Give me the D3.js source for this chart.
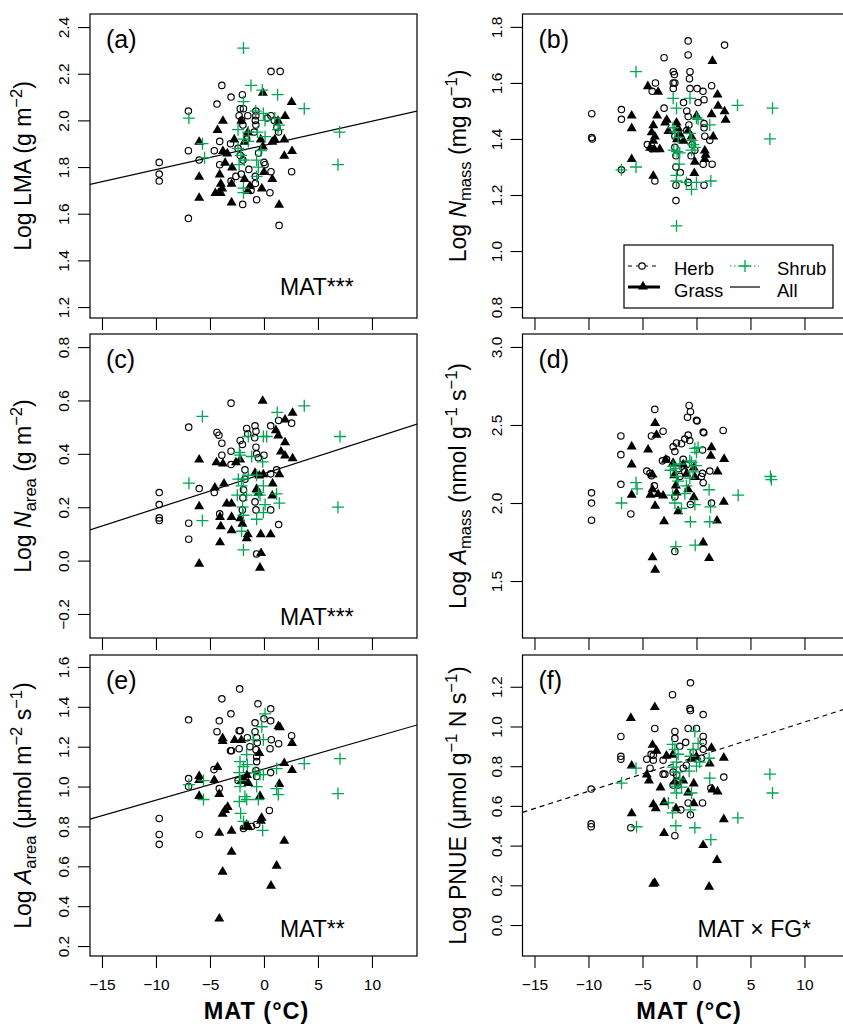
<!DOCTYPE html>
<html>
<head>
<meta charset="utf-8">
<script src="https://cdn.jsdelivr.net/npm/d3@7"></script>
<style>
  body { margin: 0; background: #fff; }
  svg { display: block; font-family: "Liberation Sans", Arial, Helvetica, sans-serif; }
</style>
</head>
<body>
<div id="chart"></div>
<script>
// MAT (degC) against log leaf traits, one [MAT, value] pair per point
const matTicks = [-15, -10, -5, 0, 5, 10];

const lmaHerb = [[-9.7,1.82],[-9.7,1.77],[-9.7,1.74],[-7.0,2.04],[-7.0,1.87],[-7.0,1.58],[-6.0,1.83],
  [-4.35,2.07],[-4.6,1.87],[-4.1,1.91],[-3.9,2.15],[-4.1,1.81],[-3.05,2.10],[-3.1,1.90],[-3.05,1.74],
  [-2.0,2.11],[-2.2,2.05],[-1.9,2.05],[-2.3,2.02],[-1.5,2.02],[-2.07,2.0],[-2.4,1.88],[-1.95,1.98],
  [-0.75,2.04],[-0.75,2.02],[-0.8,2.0],[-0.75,1.98],[-0.9,1.95],[-1.6,1.92],[-2.2,1.85],[-1.95,1.83],
  [-2.1,1.77],[-1.4,1.79],[-0.8,1.76],[-0.8,1.73],[-0.68,1.66],[-1.97,1.64],[0.0,1.82],[0.1,1.81],
  [0.65,1.78],[0.55,1.69],[0.65,2.21],[1.5,2.21],[0.3,2.01],[0.65,2.02],[0.95,2.0],[1.2,1.97],
  [1.35,1.95],[2.56,1.78],[1.4,1.55],[-1.2,1.70],[-0.5,1.86],[-2.6,1.76]];
const lmaGrass = [[-6.0,1.91],[-6.0,1.76],[-6.0,1.67],[-4.3,1.96],[-3.8,2.0],[-3.8,1.87],[-3.4,1.86],
  [-3.6,1.82],[-2.95,1.80],[-4.0,1.73],[-3.87,1.71],[-4.2,1.69],[-4.5,1.69],[-4.0,1.69],[-4.1,1.77],
  [-3.0,1.73],[-3.0,1.65],[-2.75,1.92],[-1.8,1.91],[-2.1,2.0],[-1.5,1.95],[-1.8,1.75],[-1.5,1.70],
  [-1.3,1.72],[-0.1,2.12],[-0.2,1.71],[-0.3,1.92],[-0.1,1.89],[0.0,1.78],[0.77,1.91],[1.0,1.92],
  [0.77,1.75],[1.4,1.64],[1.95,2.02],[1.3,2.0],[1.88,1.92],[1.88,1.85],[2.56,2.08],[2.6,1.87]];
const lmaShrub = [[-1.9,2.31],[-6.95,2.01],[-5.7,1.90],[-5.5,1.84],[-1.2,2.15],[-0.15,2.13],[1.26,2.11],
  [3.73,2.05],[7.0,1.95],[6.85,1.81],[-1.9,2.08],[-0.77,2.04],[-0.06,2.03],[0.1,2.0],[1.0,2.01],
  [1.4,1.98],[1.3,1.96],[-2.4,1.96],[-1.45,1.95],[-1.9,1.92],[-1.45,1.91],[-2.4,1.88],[-2.13,1.85],
  [-1.82,1.83],[-2.3,1.81],[-0.6,1.95],[0.1,1.93],[-0.28,1.87],[-0.68,1.83],[-0.52,1.80],[-0.68,1.76],
  [-1.9,1.71],[-1.9,1.69]];

const nmassHerb = [[-9.7,1.49],[-9.7,1.405],[-9.65,1.40],[-6.95,1.505],[-6.95,1.47],[-6.95,1.29],
  [-3.0,1.69],[-3.8,1.60],[-4.1,1.57],[-3.85,1.25],[-4.55,1.38],[-4.15,1.365],[-3.0,1.51],
  [-2.15,1.64],[-2.05,1.63],[-2.15,1.60],[-2.0,1.60],[-2.15,1.58],[-0.77,1.75],[-0.77,1.70],
  [-0.6,1.64],[-0.65,1.615],[-0.6,1.58],[0.06,1.58],[0.6,1.57],[0.15,1.53],[0.7,1.54],[1.4,1.59],
  [2.6,1.735],[-1.2,1.53],[-0.9,1.50],[-0.77,1.48],[-0.7,1.45],[-0.9,1.43],[-2.0,1.41],[-2.0,1.37],
  [-1.9,1.34],[-1.9,1.30],[-1.5,1.28],[-1.9,1.235],[-1.9,1.18],[-0.77,1.245],[0.7,1.235],[0.62,1.31],
  [1.45,1.31],[0.77,1.41],[1.23,1.395],[0.7,1.455],[0.7,1.44],[-0.4,1.38],[-0.15,1.36],[-0.5,1.34]];
const nmassGrass = [[-6.0,1.485],[-6.0,1.44],[-6.0,1.33],[-4.5,1.59],[-3.55,1.57],[-3.65,1.485],
  [-4.0,1.27],[-4.0,1.45],[-4.15,1.425],[-3.85,1.41],[-4.0,1.395],[-4.3,1.37],[-3.4,1.365],
  [-3.9,1.365],[-2.9,1.46],[-2.6,1.43],[-2.75,1.47],[-1.85,1.46],[-1.7,1.44],[-1.55,1.42],
  [-1.8,1.40],[-1.2,1.395],[-0.77,1.43],[-0.46,1.41],[0.0,1.485],[-0.15,1.32],[-0.2,1.28],
  [0.77,1.36],[0.85,1.345],[0.77,1.33],[1.48,1.68],[1.95,1.56],[2.0,1.52],[1.4,1.49],[1.55,1.41],
  [2.6,1.50],[2.7,1.47]];
const nmassShrub = [[-5.6,1.64],[-6.95,1.29],[-5.6,1.30],[-1.85,1.09],[3.8,1.52],[7.04,1.51],[6.8,1.40],
  [-2.16,1.545],[-1.85,1.51],[-2.16,1.44],[-2.0,1.425],[-1.7,1.405],[-2.1,1.36],[-1.8,1.355],
  [-1.55,1.35],[-1.6,1.31],[-1.85,1.27],[-1.85,1.25],[-0.93,1.245],[-0.46,1.22],[0.0,1.245],
  [-0.6,1.545],[0.0,1.475],[0.15,1.47],[-0.6,1.42],[-0.46,1.395],[-0.3,1.38],[-0.46,1.36],
  [-0.15,1.37],[1.23,1.45],[1.33,1.25]];

const nareaHerb = [[-9.7,0.255],[-9.7,0.21],[-9.7,0.16],[-9.7,0.15],[-6.97,0.50],[-6.97,0.14],
  [-6.97,0.08],[-6.0,0.27],[-4.6,0.255],[-4.35,0.48],[-4.17,0.47],[-3.9,0.44],[-3.9,0.395],
  [-4.1,0.175],[-3.05,0.59],[-3.05,0.41],[-3.05,0.36],[-2.2,0.45],[-2.0,0.435],[-1.6,0.495],
  [-1.5,0.475],[-0.83,0.505],[-0.74,0.485],[-0.86,0.46],[-0.74,0.425],[-0.68,0.40],[-0.52,0.385],
  [0.0,0.395],[0.62,0.505],[1.36,0.525],[2.56,0.515],[1.17,0.34],[0.62,0.325],[-1.76,0.34],
  [-1.76,0.305],[-1.9,0.265],[-1.95,0.235],[-2.0,0.19],[-0.83,0.22],[-0.74,0.19],[0.62,0.19],
  [1.36,0.135],[-0.68,0.025]];
const nareaGrass = [[-6.0,0.38],[-6.0,0.205],[-6.0,-0.01],[-4.4,0.37],[-3.8,0.365],[-3.7,0.29],
  [-4.55,0.275],[-3.45,0.215],[-3.0,0.215],[-4.07,0.165],[-4.0,0.13],[-3.0,0.165],[-3.0,0.115],
  [-4.07,0.07],[-2.6,0.37],[-2.2,0.38],[-2.2,0.16],[-2.0,0.14],[-1.5,0.10],[-1.6,0.085],[-0.3,0.10],
  [0.62,0.10],[-0.12,0.60],[-0.27,0.03],[-0.37,-0.025],[-0.83,0.33],[-0.43,0.32],[-0.06,0.325],
  [0.8,0.29],[0.77,0.245],[1.42,0.325],[1.57,0.41],[1.1,0.49],[1.33,0.47],[1.95,0.53],[2.65,0.555],
  [1.95,0.445],[1.95,0.395],[2.65,0.385],[-0.68,0.27],[-0.52,0.255]];
const nareaShrub = [[-5.7,0.54],[-6.95,0.29],[-5.7,0.15],[3.73,0.58],[7.04,0.465],[6.85,0.20],
  [1.23,0.555],[-1.9,0.04],[-1.45,0.465],[-0.06,0.465],[0.25,0.465],[-2.28,0.405],[-2.2,0.395],
  [-1.14,0.39],[-0.12,0.37],[-2.37,0.305],[-1.9,0.305],[-2.07,0.28],[-1.6,0.245],[-2.47,0.245],
  [-1.98,0.20],[-1.9,0.17],[-2.07,0.11],[-0.52,0.255],[-0.37,0.245],[-0.06,0.28],[0.1,0.21],
  [-0.06,0.18],[-0.68,0.155],[1.17,0.25],[1.42,0.215],[-0.68,0.32],[-1.45,0.32]];

const amassHerb = [[-9.72,2.065],[-9.72,2.0],[-9.72,1.89],[-7.0,2.43],[-7.0,2.31],[-7.0,2.12],
  [-6.08,1.93],[-3.86,2.60],[-3.09,2.46],[-4.17,2.43],[-4.6,2.205],[-4.3,2.19],[-4.17,2.175],
  [-3.9,2.11],[-3.15,2.27],[-2.16,2.36],[-1.85,2.385],[-2.0,2.33],[-1.39,2.38],[-1.08,2.41],
  [-0.77,2.435],[-0.62,2.40],[-0.68,2.625],[-0.56,2.585],[-0.83,2.55],[0.0,2.53],[0.06,2.525],
  [0.62,2.455],[0.68,2.45],[2.47,2.465],[0.56,2.34],[0.56,2.19],[0.46,2.17],[0.62,2.13],[1.23,2.205],
  [1.39,2.0],[-0.56,1.99],[-2.0,1.69],[-1.69,2.22],[-1.54,2.17],[-1.23,2.28],[-0.93,2.245],
  [-1.08,2.20],[-2.0,2.04],[-2.78,2.28]];
const amassGrass = [[-6.0,2.365],[-6.0,2.25],[-6.0,2.055],[-4.48,2.345],[-3.83,2.515],[-3.7,2.44],
  [-4.07,2.185],[-4.07,2.09],[-4.26,2.055],[-3.55,2.06],[-3.09,2.05],[-3.83,1.985],[-3.0,1.885],
  [-4.07,1.655],[-3.83,1.575],[-2.84,2.28],[-2.16,2.26],[-2.07,2.18],[-1.91,2.115],[-1.85,2.07],
  [-1.7,1.95],[-1.23,2.25],[-0.93,2.19],[-0.77,2.09],[-0.25,2.23],[-0.15,2.17],[-0.25,2.04],
  [0.62,1.75],[1.17,1.65],[1.39,2.36],[1.33,2.305],[1.95,2.205],[2.56,2.285],[2.53,2.01],[1.9,1.89]];
const amassShrub = [[-6.94,2.0],[-5.6,2.13],[-5.5,2.09],[6.85,2.17],[6.94,2.15],[3.86,2.05],
  [1.17,2.085],[1.3,1.975],[1.23,1.88],[-0.56,1.88],[-1.91,1.72],[-0.12,1.73],[-2.22,2.05],
  [-2.0,2.0],[-1.39,1.965],[-1.08,2.06],[-0.93,2.11],[-0.62,2.16],[-0.31,2.20],[-0.06,2.24],
  [0.0,2.325],[-0.15,2.35],[0.15,2.355],[-0.62,2.27],[-1.7,2.14],[-1.85,2.17],[-2.16,2.235],
  [-1.91,2.22],[-1.54,2.25],[-2.41,2.21],[-0.46,2.26],[-0.15,1.99]];

const aareaHerb = [[-9.7,0.84],[-9.7,0.76],[-9.7,0.71],[-6.98,1.335],[-6.98,1.04],[-6.98,1.0],
  [-6.0,0.76],[-4.35,1.275],[-4.14,1.33],[-3.9,1.44],[-4.63,1.085],[-4.14,0.99],[-3.06,1.365],
  [-3.1,1.18],[-3.0,1.18],[-2.25,1.49],[-2.3,1.28],[-2.2,1.28],[-2.3,1.19],[-1.54,1.245],[-1.3,1.20],
  [-0.83,1.32],[-0.83,1.275],[-0.68,1.245],[-0.62,1.22],[-0.74,1.185],[-0.68,1.15],[-0.68,1.125],
  [-0.56,1.415],[0.0,1.34],[0.62,1.39],[0.62,1.33],[0.68,1.235],[0.56,1.19],[1.36,1.215],
  [2.56,1.255],[0.62,1.07],[0.5,0.88],[-0.68,0.81],[-0.74,1.08],[-0.68,1.05],[-2.4,1.03],
  [-1.9,0.79],[-1.14,0.80]];
const aareaGrass = [[-6.0,1.055],[-6.0,1.035],[-6.0,0.955],[-4.6,1.035],[-4.3,1.10],[-4.14,0.965],
  [-3.83,1.245],[-3.83,1.23],[-3.83,0.865],[-3.36,0.90],[-3.6,0.885],[-4.14,0.77],[-3.0,0.78],
  [-3.0,0.675],[-3.83,0.575],[-4.14,0.34],[-2.72,1.235],[-2.1,1.235],[-2.04,1.035],[-1.73,1.03],
  [-1.57,1.06],[-1.45,1.02],[-1.45,0.80],[-1.6,0.81],[-1.76,0.80],[-0.37,0.955],[-0.22,0.845],
  [-0.28,0.83],[-0.43,1.17],[1.33,1.305],[1.48,1.30],[1.42,1.015],[1.88,1.12],[2.6,1.22],
  [2.6,1.085],[1.88,0.73],[1.17,0.605],[0.65,0.505]];
const aareaShrub = [[-6.95,1.01],[-5.6,1.03],[-5.6,0.935],[3.73,1.115],[7.04,1.14],[6.85,0.965],
  [0.1,1.365],[-0.06,1.235],[-0.2,1.30],[-1.0,1.235],[-1.6,1.16],[-2.22,1.125],[-1.9,1.10],
  [-1.54,1.11],[-2.28,1.07],[-2.16,1.03],[-2.22,1.0],[-2.28,0.925],[-2.16,0.865],[-1.9,0.825],
  [-1.76,0.95],[-1.6,0.935],[-0.83,1.07],[-0.68,1.0],[-0.52,0.935],[-0.37,1.06],[-0.06,1.06],
  [1.17,1.09],[1.17,0.99],[1.33,0.96],[-0.12,0.78]];

const pnueHerb = [[-9.75,0.685],[-9.75,0.51],[-9.75,0.495],[-7.0,0.95],[-7.0,0.85],[-7.0,0.835],
  [-6.08,0.49],[-3.86,0.99],[-4.3,0.79],[-4.6,0.835],[-4.2,0.86],[-4.0,0.855],[-4.0,0.83],
  [-3.09,0.83],[-3.09,0.76],[-2.93,0.76],[-2.22,1.16],[-0.56,1.22],[-0.6,1.09],[-0.56,1.08],
  [0.62,1.06],[-0.77,0.99],[0.0,0.99],[-2.0,0.975],[-2.0,0.94],[0.62,0.95],[0.62,0.92],[0.62,0.885],
  [0.46,0.84],[2.53,0.745],[1.33,0.69],[0.56,0.615],[-0.77,0.615],[-0.56,0.555],[-1.45,0.58],
  [-2.0,0.45],[-2.16,0.77],[-1.85,0.755],[-1.7,0.72],[-1.23,0.79],[-0.93,0.805],[-2.16,0.705],
  [-1.7,0.705],[-1.54,0.90],[-1.0,0.92],[-0.3,0.87]];
const pnueGrass = [[-6.08,1.045],[-3.86,1.10],[-6.0,0.805],[-4.07,0.91],[-3.7,0.88],[-2.78,0.855],
  [-4.6,0.76],[-4.4,0.73],[-3.33,0.695],[-4.0,0.61],[-3.77,0.59],[-3.0,0.62],[-6.0,0.565],
  [-3.0,0.465],[-4.0,0.21],[-3.86,0.215],[-1.9,0.59],[-2.0,0.725],[-1.23,0.73],[-0.77,0.67],
  [-0.25,0.715],[-0.25,0.615],[0.62,0.405],[1.17,0.195],[1.9,0.33],[1.39,0.895],[1.23,0.815],
  [2.53,0.845],[1.48,0.685],[1.95,0.675],[2.53,0.535],[-0.46,0.84],[0.0,0.85],[-2.2,0.86]];
const pnueShrub = [[-5.6,0.79],[-6.94,0.715],[-5.55,0.495],[3.83,0.54],[6.8,0.76],[7.04,0.665],
  [1.33,0.43],[-0.15,0.49],[-1.91,0.50],[-2.22,0.565],[-2.6,0.615],[1.23,0.74],[1.17,0.84],
  [-0.15,0.975],[0.15,0.915],[-0.31,0.885],[-0.56,0.85],[0.0,0.80],[-0.68,0.775],[-0.46,0.665],
  [-0.56,0.58],[-2.0,0.885],[-1.7,0.86],[-1.85,0.82],[-2.16,0.795],[-1.85,0.77],[-1.54,0.735],
  [-1.39,0.695],[-2.0,0.70],[-1.85,0.665],[-2.22,0.91],[0.3,0.82]];

// fitted lines: [intercept, slope] against MAT
const fitLMA = [1.893, 0.01037];
const fitNarea = [0.326, 0.01311];
const fitAarea = [1.088, 0.01559];
const fitPnueHerb = [0.848, 0.01744];

// y tick values per panel
const ticksLMA = [1.2, 1.4, 1.6, 1.8, 2.0, 2.2, 2.4];
const ticksNmass = [0.8, 1.0, 1.2, 1.4, 1.6, 1.8];
const ticksNarea = [-0.2, 0.0, 0.2, 0.4, 0.6, 0.8];
const ticksAmass = [1.5, 2.0, 2.5, 3.0];
const ticksAarea = [0.2, 0.4, 0.6, 0.8, 1.0, 1.2, 1.4, 1.6];
const ticksPnue = [0.0, 0.2, 0.4, 0.6, 0.8, 1.0, 1.2];

const width = 843;
const height = 1026;
const boxW = 327;
const colX = [90, 522.5];
const rowY = [[14, 318], [334, 638], [655, 956]];
const tickLen = 12;
const shrubGreen = '#00a651';
const fontStack = '"Liberation Sans", Arial, Helvetica, sans-serif';

// title parts: [text, style] with style '' | 'i' | 'sub' | 'sup'
const panels = [
  { tag: '(a)', col: 0, row: 0, y: [1.153, 2.456], ticks: ticksLMA,
    herb: lmaHerb, grass: lmaGrass, shrub: lmaShrub, fit: fitLMA, dash: false, note: 'MAT***', noteDy: 23,
    title: [['Log LMA (g m', ''], ['\u22122', 'sup'], [')', '']] },
  { tag: '(b)', col: 1, row: 0, y: [0.761, 1.846], ticks: ticksNmass,
    herb: nmassHerb, grass: nmassGrass, shrub: nmassShrub, fit: null, legend: true,
    title: [['Log ', ''], ['N', 'i'], ['mass', 'sub'], [' (mg g', ''], ['\u22121', 'sup'], [')', '']] },
  { tag: '(c)', col: 0, row: 1, y: [-0.29, 0.849], ticks: ticksNarea,
    herb: nareaHerb, grass: nareaGrass, shrub: nareaShrub, fit: fitNarea, dash: false, note: 'MAT***', noteDy: 13,
    title: [['Log ', ''], ['N', 'i'], ['area', 'sub'], [' (g m', ''], ['\u22122', 'sup'], [')', '']] },
  { tag: '(d)', col: 1, row: 1, y: [1.135, 3.083], ticks: ticksAmass,
    herb: amassHerb, grass: amassGrass, shrub: amassShrub, fit: null,
    title: [['Log ', ''], ['A', 'i'], ['mass', 'sub'], [' (nmol g', ''], ['\u22121', 'sup'], [' s', ''], ['\u22121', 'sup'], [')', '']] },
  { tag: '(e)', col: 0, row: 2, y: [0.15, 1.66], ticks: ticksAarea,
    herb: aareaHerb, grass: aareaGrass, shrub: aareaShrub, fit: fitAarea, dash: false, note: 'MAT**', noteDy: 19,
    title: [['Log ', ''], ['A', 'i'], ['area', 'sub'], [' (\u03bcmol m', ''], ['\u22122', 'sup'], [' s', ''], ['\u22121', 'sup'], [')', '']] },
  { tag: '(f)', col: 1, row: 2, y: [-0.156, 1.36], ticks: ticksPnue,
    herb: pnueHerb, grass: pnueGrass, shrub: pnueShrub, fit: fitPnueHerb, dash: true, note: 'MAT \u00d7 FG*', noteDy: 19,
    title: [['Log PNUE (\u03bcmol g', ''], ['\u22121', 'sup'], [' N s', ''], ['\u22121', 'sup'], [')', '']] }
];

// R style labels with a true minus sign
const fmtNum = (v, digits) => (v < 0 ? '\u2212' : '') + Math.abs(v).toFixed(digits);

const trianglePath = 'M0,-5.2L5,3.4L-5,3.4Z';
const plusPath = 'M-6,0H6M0,-6V6';

const svg = d3.select('#chart').append('svg')
  .attr('width', width)
  .attr('height', height);

// sub/superscripts as tspans, each shift undone on the next plain part
function addTitle (sel, parts, fontSize) {
  let shift = 0;
  parts.forEach(([t, style]) => {
    const ts = sel.append('tspan').text(t);
    if (style === 'i') ts.attr('font-style', 'italic');
    let dy = 0;
    if (style === 'sub') dy = 5;
    if (style === 'sup') dy = -9;
    if (dy !== 0) ts.attr('font-size', fontSize * 0.72);
    if (dy - shift !== 0) ts.attr('dy', dy - shift);
    shift = dy;
  });
}

panels.forEach(p => {
  const x0 = colX[p.col];
  const [y0, y1] = rowY[p.row];

  const x = d3.scaleLinear().domain([-16.11, 14.17]).range([x0, x0 + boxW]);
  const y = d3.scaleLinear().domain(p.y).range([y1, y0]);

  const g = svg.append('g');
  const clipId = 'clip-' + p.tag.replace(/[()]/g, '');
  g.append('clipPath').attr('id', clipId)
    .append('rect').attr('x', x0).attr('y', y0).attr('width', boxW).attr('height', y1 - y0);

  // x axis ticks below each box, labels only on bottom row
  const xAxis = d3.axisBottom(x).tickValues(matTicks).tickSize(tickLen)
    .tickFormat(p.row === 2 ? v => fmtNum(v, 0) : '');
  const xg = g.append('g').attr('transform', `translate(0,${y1})`).call(xAxis);
  xg.select('.domain').remove();
  xg.selectAll('line').attr('stroke-width', 1.1);
  xg.selectAll('text').attr('font-size', 15.5).attr('font-family', fontStack)
    .attr('fill', '#000').attr('dy', 0).attr('y', 34);

  const yAxis = d3.axisLeft(y).tickValues(p.ticks).tickSize(tickLen).tickFormat(v => fmtNum(v, 1));
  const yg = g.append('g').attr('transform', `translate(${x0},0)`).call(yAxis);
  yg.select('.domain').remove();
  yg.selectAll('line').attr('stroke-width', 1.1);
  yg.selectAll('text')
    .attr('font-size', 15.5).attr('font-family', fontStack).attr('fill', '#000')
    .attr('text-anchor', 'middle').attr('x', 0).attr('dy', 0)
    .attr('transform', 'translate(-21,0) rotate(-90)');

  // fitted line
  if (p.fit) {
    const xs = x.domain();
    g.append('line')
      .attr('clip-path', `url(#${clipId})`)
      .attr('x1', x(xs[0])).attr('y1', y(p.fit[0] + p.fit[1] * xs[0]))
      .attr('x2', x(xs[1])).attr('y2', y(p.fit[0] + p.fit[1] * xs[1]))
      .attr('stroke', '#000').attr('stroke-width', 1.2)
      .attr('stroke-dasharray', p.dash ? '5,4' : null);
  }

  g.selectAll('.herb').data(p.herb).join('circle')
    .attr('cx', d => x(d[0])).attr('cy', d => y(d[1])).attr('r', 3.2)
    .attr('fill', 'none').attr('stroke', '#000').attr('stroke-width', 1.15);

  g.selectAll('.grass').data(p.grass).join('path')
    .attr('d', trianglePath)
    .attr('transform', d => `translate(${x(d[0])},${y(d[1])})`)
    .attr('fill', '#000');

  g.selectAll('.shrub').data(p.shrub).join('path')
    .attr('d', plusPath)
    .attr('transform', d => `translate(${x(d[0])},${y(d[1])})`)
    .attr('fill', 'none').attr('stroke', shrubGreen).attr('stroke-width', 1.3);

  g.append('rect')
    .attr('x', x0).attr('y', y0).attr('width', boxW).attr('height', y1 - y0)
    .attr('fill', 'none').attr('stroke', '#000').attr('stroke-width', 1.2);

  g.append('text')
    .attr('x', x0 + 16).attr('y', y0 + 34)
    .attr('font-size', 25).attr('font-family', fontStack)
    .text(p.tag);

  if (p.note) {
    g.append('text')
      .attr('x', x0 + 175 + (p.tag === '(f)' ? 0 : 15)).attr('y', y1 - p.noteDy)
      .attr('font-size', 23).attr('font-family', fontStack)
      .text(p.note);
  }

  const title = g.append('text')
    .attr('transform', `translate(${p.col === 0 ? 31 : 466},${(y0 + y1) / 2}) rotate(-90)`)
    .attr('text-anchor', 'middle')
    .attr('font-size', 23).attr('font-family', fontStack);
  addTitle(title, p.title, 23);

  if (p.row === 2) {
    g.append('text')
      .attr('x', x0 + boxW / 2 + 3).attr('y', 1019)
      .attr('text-anchor', 'middle')
      .attr('font-size', 23.5).attr('font-weight', 'bold').attr('letter-spacing', 1)
      .attr('font-family', fontStack)
      .text('MAT (\u00b0C)');
  }

  if (p.legend) {
    const lg = g.append('g');
    lg.append('rect').attr('x', 624).attr('y', 245).attr('width', 209).attr('height', 63)
      .attr('fill', '#fff').attr('stroke', '#000').attr('stroke-width', 1.2);
    const r1 = 266, r2 = 287;
    lg.append('line').attr('x1', 628).attr('x2', 656).attr('y1', r1).attr('y2', r1)
      .attr('stroke', '#000').attr('stroke-dasharray', '4,4');
    lg.append('circle').attr('cx', 642).attr('cy', r1).attr('r', 3.2)
      .attr('fill', '#fff').attr('stroke', '#000').attr('stroke-width', 1.15);
    lg.append('line').attr('x1', 730).attr('x2', 759).attr('y1', r1).attr('y2', r1)
      .attr('stroke', shrubGreen).attr('stroke-dasharray', '1.5,2.5');
    lg.append('path').attr('d', plusPath).attr('transform', `translate(745,${r1})`)
      .attr('fill', 'none').attr('stroke', shrubGreen).attr('stroke-width', 1.3);
    lg.append('line').attr('x1', 628).attr('x2', 660).attr('y1', r2).attr('y2', r2)
      .attr('stroke', '#000').attr('stroke-width', 3);
    lg.append('path').attr('d', trianglePath).attr('transform', `translate(643,${r2 - 1})`)
      .attr('fill', '#000');
    lg.append('line').attr('x1', 730).attr('x2', 760).attr('y1', r2).attr('y2', r2)
      .attr('stroke', '#000').attr('stroke-width', 1.2);
    const labels = [['Herb', 674, 275], ['Shrub', 777, 275], ['Grass', 674, 297], ['All', 777, 297]];
    lg.selectAll('.lab').data(labels).join('text')
      .attr('x', d => d[1]).attr('y', d => d[2])
      .attr('font-size', 18.5).attr('font-family', fontStack)
      .text(d => d[0]);
  }
});
</script>
</body>
</html>
